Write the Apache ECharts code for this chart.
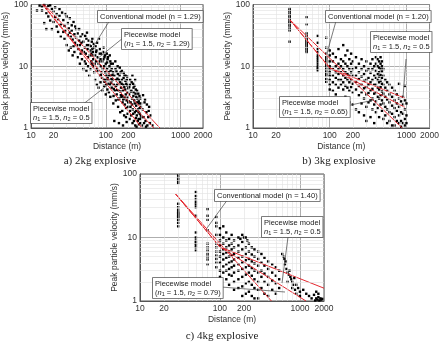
<!DOCTYPE html>
<html>
<head>
<meta charset="utf-8">
<script src="https://cdn.jsdelivr.net/npm/echarts@6/dist/echarts.min.js"></script>
<style>
html, body { margin: 0; padding: 0; background: #fff; }
#main { width: 442px; height: 355px; }
</style>
</head>
<body>
<div id="main"></div>
<script>
// tick labels / minor grid positions
var xTickLabels = [10, 20, 100, 200, 1000, 2000];
var yTickLabels = [1, 10, 100];
var xMinorTicks = [20, 30, 40, 50, 60, 70, 80, 90, 200, 300, 400, 500, 600, 700, 800, 900];
var yMinorTicks = [2, 3, 4, 5, 6, 7, 8, 9, 20, 30, 40, 50, 60, 70, 80, 90];
var captions = ['a) 2kg explosive', 'b) 3kg explosive', 'c) 4kg explosive'];

// measured PPV (distance m, mm/s) - 2kg
var points2kg = [
  [12,80],[13,96],[14,92],[15,98],[16,88],[17,95],[18,97],[14,80],[16,72],[17,64],[19,85],[20,78],[21,90],[22,70],
  [18,55],[20,52],[21,62],[23,58],[24,66],[25,48],[22,44],[19,40],[23,36],[25,30],[24,84],[26,74],[15,50],[16,40],
  [27,56],[28,45],[29,38],[30,64],[31,50],[32,41],[33,35],[34,30],[35,46],[36,27],[37,52],[38,33],[39,24],[40,40],
  [28,28],[30,22],[32,18],[34,20],[36,15],[38,17],[40,29],[29,70],[33,60],[35,38],[37,21],[39,44],[31,32],[27,36],
  [42,34],[44,26],[45,22],[46,30],[48,18],[50,25],[52,20],[54,16],[55,28],[56,35],[58,14],[60,22],[62,18],[64,12],
  [65,25],[66,15],[68,10],[70,20],[42,14],[45,11],[48,13],[50,9],[52,12],[55,8.5],[58,10],[60,7],[62,9],[65,11],
  [68,13],[70,8],[43,19],[47,24],[51,17],[53,31],[57,19],[59,26],[61,15],[63,21],[67,17],[69,23],[44,40],[49,33],
  [54,11],[56,22],[64,16],[66,28],[46,16],[41,22],
  [72,15],[74,12],[75,18],[76,9],[78,14],[80,11],[82,16],[84,7],[85,13],[86,10],[88,8],[90,12],[92,17],[94,6],
  [95,10],[96,14],[98,8],[100,11],[102,7],[104,9],[106,13],[108,6],[110,8],[112,10],[114,5],[115,12],[118,7],[120,9],
  [72,6],[76,5],[80,4.5],[85,5.5],[90,4],[95,4.8],[100,3.5],[105,4.2],[110,3.8],[115,3.2],[120,4.5],[73,21],[77,24],
  [83,19],[87,16],[93,20],[97,15],[103,16],[107,14],[113,15],[117,11],[79,8.5],[89,6.5],[99,6],[109,5.2],[119,6.2],
  [81,28],[91,9],[101,5],[111,7],[71,11],
  [122,6],[125,8],[128,5],[130,7],[132,4],[135,9],[138,6],[140,3.5],[142,5],[145,7.5],[148,4],[150,6],[152,3],
  [155,5.5],[158,8],[160,4.5],[162,3.2],[165,6],[168,2.6],[170,4],[172,5],[175,3],[178,7],[180,2.4],[182,4.2],
  [185,3.5],[188,5.2],[190,2.8],[192,6],[195,3.8],[198,2.2],[200,4.4],[124,11],[134,12],[144,10],[154,9.5],
  [164,8.5],[174,7.8],[184,7],[194,6.8],[126,2.5],[136,2.8],[146,2.2],[156,1.8],[166,1.9],[176,1.6],[186,1.5],
  [196,1.7],[130,1.3],[150,1.2],[170,1.1],[190,1.25],[127,3.3],[137,4.8],[147,2.9],[157,3.9],[167,3.3],[177,4.6],
  [187,2.1],[197,3.1],
  [205,3.5],[210,5],[215,2.6],[220,4],[225,3],[230,2],[235,4.5],[240,2.8],[245,1.8],[250,3.6],[255,2.3],[260,1.6],
  [265,3],[270,2],[275,1.4],[280,2.5],[285,1.7],[290,1.2],[295,2.2],[300,1.5],[208,1.4],[218,1.6],[228,1.2],
  [238,1.3],[248,1.1],[258,1.05],[212,6],[222,5.5],[232,5.2],[242,4.8],[252,4.2],[262,4],[272,3.6],[282,3.3],
  [292,3],[214,2.2],[224,2.4],[234,3.3],[244,2.5],[254,1.9],[264,2.6],[274,1.8],[284,2.1],[294,1.6],[203,2.7],
  [227,7],[247,6],[268,1.3],[288,1.4],
  [310,2],[320,1.5],[330,2.6],[340,1.3],[350,1.8],[360,1.1],[370,1.5],[380,2.2],[390,1.2],[400,1.6],[420,1.1],
  [315,3.4],[335,2.9],[355,2.4],[375,1.9],[305,1.1],[325,1.2],[345,1.05],
  [66,19],[74,17],[82,12],[93,13],[104,11.5],[116,8.5],[123,7.2],[139,8.2],[143,6.3],[153,7],[163,5.2],[173,6.5],
  [183,5.8],[193,4.9],[206,4.6],[217,3.9],[236,3.8],[256,3.2],[276,2.7],[296,2.5],[86,7.2],[96,5.6],[106,6.6],
  [118,5.4],[128,4.3],[141,4.1],[159,3.4],[171,2.9],[181,3.1],[199,2.6],[211,1.9],[233,1.7],[253,1.45],[278,1.15]
];

// 3kg
var points3kg = [
  [30,85],[30,80],[30,75],[30,70],[30,65],[30,62],[30,58],[30,55],[30,52],[30,50],[30,47],[30,44],[30,40],[30,38],[30,25],
  [50,62],[50,48],[50,34],[50,31],[50,29],[50,27],[50,26],[50,25],[50,24],[50,23],[50,22],[50,21],[50,20],[50,19],[50,18],[50,17],
  [70,31],[70,24],[70,19],[70,17],[70,15],[70,14],[70,13],[70,12],[70,11],[70,10],[70,9.5],[70,9],[70,8.6],
  [90,29],[90,20],[90,16],[90,14],[90,13],[90,12],[90,11],[90,10],[90,9],[90,8.2],[90,7.5],[90,7],[90,6.2],[90,5.6],
  [100,18],[100,15],[100,12],[100,10],[100,9],[100,8],[100,7],[100,6],[100,5],[100,4.2],
  [110,16],[110,12],[110,9],[110,7],[110,5.5],[110,4],[120,14],[120,10],[120,8],[120,6.5],[120,5],[120,3.5],
  [130,19],[130,11],[130,9],[130,7.5],[130,6],[130,4.5],[140,13],[140,10],[140,8],[140,6],[140,5],[140,3],
  [150,22],[150,12],[150,9],[150,7],[150,5.5],[150,4.2],[160,15],[160,11],[160,8],[160,6.5],[160,4.8],[160,3.2],
  [170,18],[170,10],[170,7.5],[170,6],[170,4.5],[180,13],[180,9],[180,7],[180,5.5],[180,4],[180,2.6],
  [190,16],[190,11],[190,8],[190,6],[190,4.6],[200,12],[200,9],[200,7],[200,5.2],[200,3.8],[200,2.4],
  [220,14],[220,9.5],[220,7],[220,5.6],[220,4.2],[220,2],[240,11],[240,8],[240,6.2],[240,4.8],[240,3.4],[240,1.8],
  [260,13],[260,9],[260,6.8],[260,5],[260,3.8],[260,2.5],[280,10],[280,7.5],[280,5.8],[280,4.4],[280,3],[280,1.6],
  [300,12],[300,8.5],[300,6],[300,4.6],[300,3.5],[300,2.2],[300,1.3],[320,9],[320,6.5],[320,5],[320,3.7],[320,2.6],
  [340,11],[340,7.8],[340,5.5],[340,4],[340,2.8],[340,1.5],[360,13],[360,9],[360,6],[360,4.3],[360,3],[360,2],
  [380,10],[380,7],[380,5],[380,3.6],[380,2.4],[380,1.2],
  [400,14],[400,11],[400,8.5],[400,6.5],[400,5],[400,3.8],[400,2.7],[400,1.8],[420,13],[420,10],[420,7.5],[420,6],
  [420,4.5],[420,3.2],[420,2.1],[440,12],[440,9.5],[440,8],[440,6.8],[440,5.5],[440,4.2],[440,3],[440,1.5],
  [460,14],[460,11],[460,9],[460,7.2],[460,5.8],[460,4.6],[460,3.4],[460,2.4],[480,12],[480,10],[480,8.2],[480,6.5],
  [480,5.2],[480,3.9],[480,2.8],[480,1.9],[500,9],[500,7],[500,5],[500,3.6],[500,2.5],[500,1.4],
  [530,6],[530,4.5],[530,3.2],[530,2.2],[530,1.6],[560,5.5],[560,4],[560,2.9],[560,2],[560,1.2],
  [600,5],[600,3.5],[600,2.6],[600,1.8],[600,1.3],[650,4.5],[650,3.2],[650,2.3],[650,1.7],[650,1.1],
  [700,4],[700,2.8],[700,2.1],[700,1.5],[700,1.1],[750,3.5],[750,2.5],[750,1.9],[750,1.3],
  [800,5.2],[800,3],[800,2.2],[800,1.6],[800,1.2],[850,2.7],[850,1.8],[850,1.3],[850,1.05],
  [900,3.2],[900,2.4],[900,1.7],[900,1.2],[950,4.8],[950,2.8],[950,2],[950,1.4],[950,1.1],
  [1000,2.5],[1000,1.6],[1000,1.2]
];

// 4kg
var points4kg = [
  [30,95],[30,88],[30,82],[30,78],[30,72],[30,34],[30,30],[30,27],[30,25],[30,24],[30,23],[30,22],[30,21],[30,20],
  [30,19],[30,17],[30,15],
  [50,52],[50,45],[50,40],[50,36],[50,33],[50,30],[50,22],[50,12],[50,10],[50,9],[50,8.5],[50,8],[50,7.5],[50,7],[50,6.2],
  [70,28],[70,22],[70,19],[70,13],[70,8],[70,7],[70,6.2],[70,5.5],[70,5],[70,4.5],[70,3.8],
  [90,21],[90,17],[90,15],[90,11],[90,8],[90,7],[90,6],[90,5.2],[90,4.6],[90,4],[90,3.4],
  [100,14],[100,11],[100,9],[100,7.5],[100,6],[100,5],[100,4],[100,3],[100,2.4],
  [110,15],[110,10],[110,8],[110,6.5],[110,5.5],[110,4.5],[110,3.5],[110,2.8],
  [120,12],[120,9],[120,7],[120,5.8],[120,4.8],[120,3.8],[120,3],[120,2.2],
  [130,9.5],[130,7.5],[130,6],[130,5],[130,4],[130,3.2],[130,2.6],[130,1.8],
  [140,11],[140,8],[140,6.5],[140,5.2],[140,4.2],[140,3.4],[140,2.5],
  [150,9],[150,7],[150,5.5],[150,4.5],[150,3.6],[150,2.8],[150,2],[150,1.5],
  [170,10],[170,7.5],[170,6],[170,4.8],[170,3.8],[170,3],[170,2.2],[170,1.6],
  [190,11],[190,8.5],[190,6.5],[190,5],[190,4],[190,3.2],[190,2.4],[190,1.7],[190,1.2],
  [210,10],[210,7],[210,5.5],[210,4.4],[210,3.4],[210,2.6],[210,1.9],[210,1.3],
  [230,8],[230,6],[230,4.6],[230,3.6],[230,2.8],[230,2],[230,1.4],
  [250,7],[250,5.4],[250,4.2],[250,3.3],[250,2.5],[250,1.8],[250,1.2],
  [270,6.5],[270,5],[270,3.9],[270,3],[270,2.2],[270,1.6],[270,1.1],
  [300,6],[300,4.6],[300,3.6],[300,2.8],[300,2],[300,1.5],[300,1.1],
  [330,5.5],[330,4],[330,3],[330,2.4],[330,1.6],[360,4.8],[360,3.6],[360,2.7],[360,2],[360,1.3],
  [400,4.2],[400,3.2],[400,2.4],[400,1.8],[400,1.2],[450,3.8],[450,2.8],[450,2.1],[450,1.5],
  [500,3.4],[500,2.5],[500,1.9],[500,1.3],[550,3],[550,2.2],[550,1.6],
  [600,5.5],[620,5],[640,4.6],[650,3.8],[660,4.2],[680,3.2],[700,2.8],[700,2],[720,2.6],[740,3],[760,2.4],
  [780,2.2],[800,2],[800,1.6],[820,1.8],[850,2.3],[870,1.5],[900,1.8],[900,1.3],[950,1.6],[1000,1.4],[1000,1.2],
  [1100,1.5],[1200,1.3],[1300,1.2],[1400,1.1],[1500,1.25],[1600,1.1],[1650,1.05],[1700,1.15],[1750,1.02],
  [1800,1.1],[1850,1.05],[1900,1.08],[1700,1.3],[1600,1.4],[1550,1.02],[200,10],[220,9],[180,9.5]
];

// fitted models (distance, PPV)
var conv2kg = [[15,100],[530,1]];
var pwHigh2kg = [[14.5,100],[40,21.8],[440,1]];
var pwLow2kg = [[14.2,100],[306,1]];

var conv3kg = [[30,57],[880,1]];
var pwHigh3kg = [[30,57],[100,9.4],[950,3.05]];
var pwLow3kg = [[30,57],[100,9.4],[950,2.17]];

var conv4kg = [[28,48],[440,1]];
var pwHigh4kg = [[28,48],[100,7.1],[2000,1.59]];
var pwLow4kg = [[28,48],[100,7.1],[1190,1]];

var panels = [
  { grid: { left: 25, top: 4, width: 178, height: 124 }, points: points2kg, lines: [conv2kg, pwHigh2kg, pwLow2kg], cap: [100, 161] },
  { grid: { left: 253, top: 4, width: 181, height: 124 }, points: points3kg, lines: [conv3kg, pwHigh3kg, pwLow3kg], cap: [339, 161] },
  { grid: { left: 140, top: 174, width: 184, height: 127 }, points: points4kg, lines: [conv4kg, pwHigh4kg, pwLow4kg], cap: [222, 336] }
];

var font = 'Liberation Sans';
var plain = function (v) { return String(v); };
var grids = [], xAxes = [], yAxes = [], series = [], graphics = [];

panels.forEach(function (p, i) {
  grids.push(Object.assign({ show: true, borderColor: '#555', borderWidth: 1, backgroundColor: '#fff' }, p.grid));
  xAxes.push({
    type: 'log', logBase: 10, min: 10, max: 2000, gridIndex: i,
    name: 'Distance (m)', nameLocation: 'middle', nameGap: 14,
    nameTextStyle: { fontFamily: font, fontSize: 8.5, color: '#333' },
    axisLine: { lineStyle: { color: '#555' } },
    axisTick: { show: false },
    axisLabel: { customValues: xTickLabels, formatter: plain, fontFamily: font, fontSize: 8.5, color: '#333', margin: 3 },
    splitLine: { show: true, lineStyle: { color: '#999', width: 0.8 } }
  });
  yAxes.push({
    type: 'log', logBase: 10, min: 1, max: 100, gridIndex: i,
    name: 'Peak particle velocity (mm/s)', nameLocation: 'middle', nameGap: 13,
    nameTextStyle: { fontFamily: font, fontSize: 8.5, color: '#333' },
    axisLine: { lineStyle: { color: '#555' } },
    axisTick: { show: false },
    axisLabel: { customValues: yTickLabels, formatter: plain, fontFamily: font, fontSize: 8.5, color: '#333', margin: 3 },
    splitLine: { show: true, lineStyle: { color: '#999', width: 0.8 } }
  });
  // minor grid
  series.push({
    type: 'line', xAxisIndex: i, yAxisIndex: i, data: [], z: 1, silent: true,
    markLine: {
      silent: true, symbol: ['none', 'none'], label: { show: false }, animation: false,
      lineStyle: { color: '#e0e0e0', width: 0.6, type: 'solid' },
      data: xMinorTicks.map(function (v) { return { xAxis: v }; })
        .concat(yMinorTicks.map(function (v) { return { yAxis: v }; }))
    }
  });
  series.push({
    type: 'scatter', xAxisIndex: i, yAxisIndex: i, data: p.points, z: 3,
    symbol: 'rect', symbolSize: 2.4, itemStyle: { color: '#000', opacity: 1 }
  });
  p.lines.forEach(function (l) {
    series.push({
      type: 'line', xAxisIndex: i, yAxisIndex: i, data: l, z: 4, symbol: 'none',
      lineStyle: { color: '#e4282f', width: 1 }
    });
  });
  graphics.push({
    type: 'text', x: p.cap[0], y: p.cap[1], z: 100,
    style: { text: captions[i], font: '11px "Liberation Serif"', fill: '#222', align: 'center', verticalAlign: 'middle' }
  });
});

var rich = {
  i: { fontStyle: 'italic', fontFamily: font, fontSize: 7.5 },
  s: { fontFamily: font, fontSize: 5.5, verticalAlign: 'bottom', padding: [3, 0, 0, 0] }
};
function note(x, y, text, lead) {
  graphics.push({
    type: 'line', z: 90,
    shape: { x1: lead[0], y1: lead[1], x2: lead[2], y2: lead[3] },
    style: { stroke: '#444', lineWidth: 0.7 }
  });
  graphics.push({
    type: 'text', x: x, y: y, z: 100,
    style: {
      text: text, rich: rich, fontFamily: font, fontSize: 7.5, fill: '#222', lineHeight: 9,
      backgroundColor: '#fff', borderColor: '#555', borderWidth: 0.8, padding: [1, 2, 1, 2]
    }
  });
}
var nn = function (a, b) { return '{i|n}{s|1} = ' + a + ', {i|n}{s|2} = ' + b; };

note(98, 11, 'Conventional model (n = 1.29)', [110, 20, 90, 52]);
note(122, 29, 'Piecewise model\n(' + nn('1.5', '1.29') + ')', [123, 38, 97, 59]);
note(31, 103, 'Piecewise model\n' + nn('1.5', '0.5'), [82, 105, 114, 80]);

note(326, 11, 'Conventional model (n = 1.20)', [336, 21, 327, 53]);
note(371, 32, 'Piecewise model\n' + nn('1.5', '0.5'), [406, 59, 403, 97]);
note(280, 97, 'Piecewise model\n(' + nn('1.5', '0.65') + ')', [346, 106, 374, 100]);

note(215, 190, 'Conventional model (n = 1.40)', [228, 199, 207, 228]);
note(262, 217, 'Piecewise model\n' + nn('1.5', '0.5'), [288, 237, 282, 283]);
note(153, 278, 'Piecewise model\n(' + nn('1.5', '0.79') + ')', [221, 287, 285, 292]);

var chart = echarts.init(document.getElementById('main'), null, { renderer: 'canvas' });
chart.setOption({
  animation: false,
  grid: grids,
  xAxis: xAxes,
  yAxis: yAxes,
  series: series,
  graphic: graphics
});
</script>
</body>
</html>
